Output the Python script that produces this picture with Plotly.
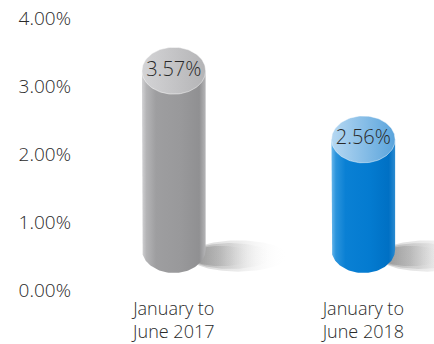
import numpy as np
import plotly.graph_objects as go

categories = ["January to<br>June 2017", "January to<br>June 2018"]
values = [3.57, 2.56]
labels = ["3.57%", "2.56%"]
y_ticks = [0, 1, 2, 3, 4]
y_ticktext = ["0.00%", "1.00%", "2.00%", "3.00%", "4.00%"]

# style
RX = 0.168      # cylinder radius in x units
RY = 0.345      # ellipse half-height in y units
BASE = 0.595    # center of bottom ellipse (y units)
FONT = "Open Sans"
TXT = "#2a2a2a"
body_scales = [
    [[0, "#d2d2d4"], [0.07, "#b4b4b6"], [0.22, "#9e9ea0"], [0.6, "#99999b"], [0.9, "#909092"], [1, "#b5b5b7"]],
    [[0, "#6ab8ec"], [0.07, "#2b94dc"], [0.22, "#0a80d4"], [0.6, "#047bd0"], [0.9, "#0070c4"], [1, "#2a8ad0"]],
]
top_scales = [
    [[0, "#d4d4d6"], [1, "#b4b4b6"]],
    [[0, "#b6d8f2"], [1, "#5aa4dc"]],
]

fig = go.Figure()
t = np.linspace(0, 2 * np.pi, 121)
half = np.linspace(np.pi, 2 * np.pi, 61)

for i, v in enumerate(values):
    xc = i
    top_c = v - RY
    # shadow (soft, layered)
    for k, (w, h, a) in enumerate([(0.26, 0.23, 0.16), (0.22, 0.19, 0.2), (0.17, 0.15, 0.24)]):
        sx = xc + 0.08 + w + w * np.cos(t)
        sy = 0.50 + h * np.sin(t)
        fig.add_trace(go.Scatter(
            x=sx, y=sy, mode="lines", line=dict(width=0), fill="toself",
            fillgradient=dict(type="horizontal",
                              colorscale=[[0, "rgba(90,90,90,%.2f)" % (a * 1.6)], [0.5, "rgba(130,130,130,%.2f)" % a], [1, "rgba(255,255,255,0)"]]),
            hoverinfo="skip", showlegend=False))
    # body
    bx = np.concatenate([[xc - RX], xc + RX * np.cos(half), [xc + RX]])
    by = np.concatenate([[top_c], BASE + RY * np.sin(half), [top_c]])
    fig.add_trace(go.Scatter(
        x=bx, y=by, mode="lines", line=dict(width=0), fill="toself",
        fillgradient=dict(type="horizontal", colorscale=body_scales[i]),
        hoverinfo="skip", showlegend=False))
    # top ellipse
    ex = xc + RX * np.cos(t)
    ey = top_c + RY * np.sin(t)
    fig.add_trace(go.Scatter(
        x=ex, y=ey, mode="lines", line=dict(width=0.8, color="rgba(255,255,255,0.6)"), fill="toself",
        fillgradient=dict(type="horizontal", colorscale=top_scales[i]),
        hoverinfo="skip", showlegend=False))
    # label
    fig.add_trace(go.Scatter(
        x=[xc], y=[top_c], mode="text", text=[labels[i]],
        textfont=dict(size=20, color=TXT, family=FONT, weight=300),
        hoverinfo="skip", showlegend=False))

fig.update_layout(
    width=434, height=344,
    margin=dict(l=76, r=0, t=10, b=50),
    paper_bgcolor="white", plot_bgcolor="white",
    font=dict(family=FONT, size=18, color=TXT, weight=300),
    xaxis=dict(range=[-0.516, 1.373], tickvals=[0, 1], ticktext=categories,
               showgrid=False, zeroline=False, showline=False, ticks="",
               ticklabelstandoff=2,
               tickfont=dict(size=18, color=TXT, family=FONT, weight=300)),
    yaxis=dict(range=[-0.059, 4.118], tickvals=y_ticks, ticktext=y_ticktext,
               showgrid=False, zeroline=False, showline=False, ticks="",
               ticklabelstandoff=4,
               tickfont=dict(size=19, color=TXT, family=FONT, weight=300)),
)
fig.write_html("out.html")
